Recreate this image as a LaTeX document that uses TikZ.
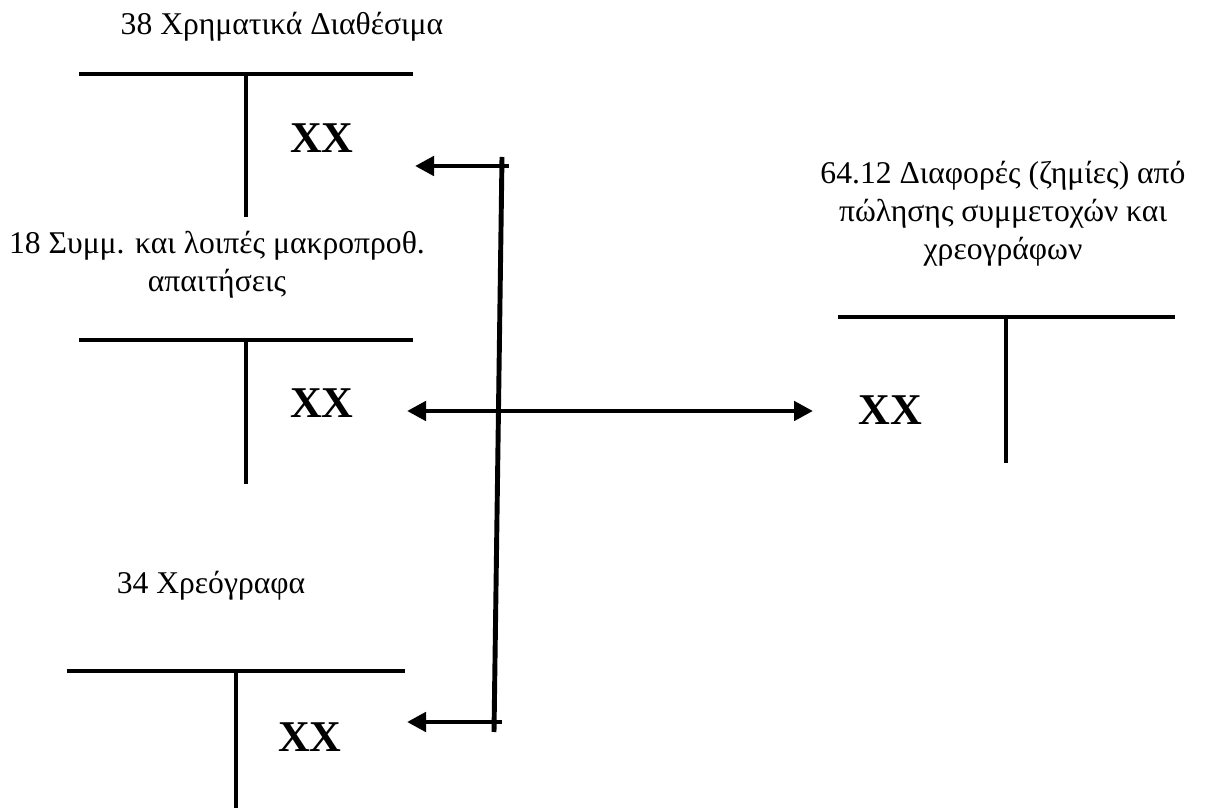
\documentclass[tikz,border=0pt]{standalone}
\usepackage{fontspec}
\setmainfont{Liberation Serif}
\usetikzlibrary{arrows.meta}

\tikzset{
    tline/.style={line width=2.2pt},
    flow/.style={line width=2.8pt},
    acct/.style={font=\fontsize{18}{21.5}\selectfont, align=center},
    amount/.style={font=\fontsize{25}{30}\selectfont\bfseries},
}

\begin{document}
\begin{tikzpicture}[>={Triangle[length=0.38cm,width=0.38cm]}]
    \useasboundingbox (0,0) rectangle (24.54,16.22);

    % 38 - cash account
    \begin{scope}[shift={(4.92,14.74)}]
        \draw[tline] (-3.34,0) -- (3.34,0);
        \draw[tline] (0,0) -- (0,-2.86);
        \node[acct] (t38) at (0.72,0.94) {38 Χρηματικά Διαθέσιμα};
        \node[amount] (x38) at (1.52,-1.28) {XX};
    \end{scope}

    % 18 - long term receivables
    \begin{scope}[shift={(4.92,9.42)}]
        \draw[tline] (-3.34,0) -- (3.34,0);
        \draw[tline] (0,0) -- (0,-2.88);
        \node[acct] (t18) at (-0.58,1.5) {18 Συμμ. και λοιπές μακροπροθ.\\απαιτήσεις};
        \node[amount] (x18) at (1.52,-1.26) {XX};
    \end{scope}

    % 34 - securities
    \begin{scope}[shift={(4.72,2.80)}]
        \draw[tline] (-3.38,0) -- (3.38,0);
        \draw[tline] (0,0) -- (0,-2.74);
        \node[acct] (t34) at (-0.5,1.7) {34 Χρεόγραφα};
        \node[amount] (x34) at (1.48,-1.32) {XX};
    \end{scope}

    % 64.12 - losses on disposal
    \begin{scope}[shift={(20.12,9.88)}]
        \draw[tline] (-3.36,0) -- (3.38,0);
        \draw[tline] (0,0) -- (0,-2.92);
        \node[acct] (t64) at (-0.06,2.06) {64.12 Διαφορές (ζημίες) από\\πώλησης συμμετοχών και\\χρεογράφων};
        \node[amount] (x64) at (-2.32,-1.86) {XX};
    \end{scope}

    % flows between the accounts
    \coordinate (jtop) at (10.04,13.08);
    \coordinate (jbot) at (9.88,1.58);
    \coordinate (s38) at (10.18,12.90);
    \coordinate (in38) at (8.30,12.90);
    \coordinate (in18) at (8.14,8.0);
    \coordinate (in64) at (16.26,8.0);
    \coordinate (s34) at (10.04,1.78);
    \coordinate (in34) at (8.14,1.78);

    \draw[flow] (jtop) -- (jbot);
    \draw[flow,->] (s38) -- (in38);
    \draw[flow,<->] (in18) -- (in64);
    \draw[flow,->] (s34) -- (in34);

\end{tikzpicture}
\end{document}
